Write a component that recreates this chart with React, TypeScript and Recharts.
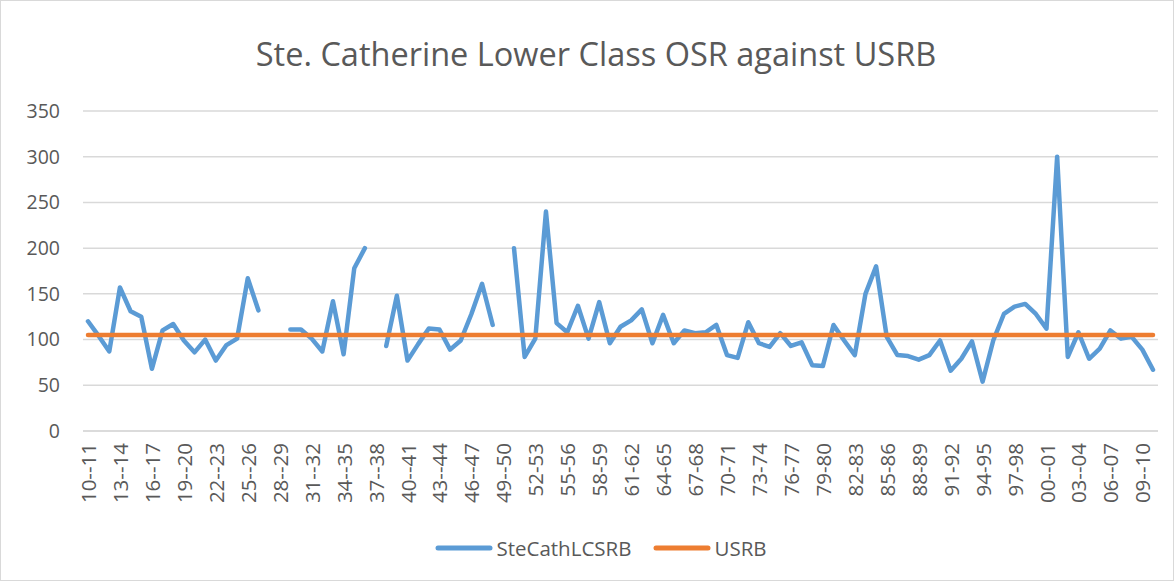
import React from "react";
import { LineChart, Line, XAxis, YAxis, CartesianGrid, Legend } from "recharts";

// season labels, 1910-11 .. 2010-11
const seasons = [
  "10--11", "11--12", "12--13", "13--14", "14--15", "15--16", "16--17", "17--18", "18--19", "19--20",
  "20--21", "21--22", "22--23", "23--24", "24--25", "25--26", "26--27", "27--28", "28--29", "29--30",
  "30--31", "31--32", "32--33", "33--34", "34--35", "35--36", "36--37", "37--38", "38--39", "39--40",
  "40--41", "41--42", "42--43", "43--44", "44--45", "45--46", "46--47", "47--48", "48--49", "49--50",
  "50-51", "51-52", "52-53", "53-54", "54-55", "55-56", "56-57", "57-58", "58-59", "59-60",
  "60-61", "61-62", "62-63", "63-64", "64-65", "65-66", "66-67", "67-68", "68-69", "69-70",
  "70-71", "71-72", "72-73", "73-74", "74-75", "75-76", "76-77", "77-78", "78-79", "79-80",
  "80-81", "81-82", "82-83", "83-84", "84-85", "85-86", "86-87", "87-88", "88-89", "89-90",
  "90-91", "91-92", "92-93", "93-94", "94-95", "95-96", "96-97", "97-98", "98-99", "99-00",
  "00--01", "01--02", "02--03", "03--04", "04--05", "05--06", "06--07", "07--08", "08--09", "09--10",
  "10--11",
];

const steCathLCSRB: (number | null)[] = [
  120, 104, 87, 157, 131, 125, 68, 110, 117, 99,
  86, 100, 77, 94, 101, 167, 132, null, null, 111,
  111, 101, 87, 142, 84, 178, 200, null, 93, 148,
  77, 95, 112, 111, 89, 99, 128, 161, 116, null,
  200, 81, 101, 240, 118, 108, 137, 101, 141, 96,
  114, 121, 133, 96, 127, 96, 110, 107, 108, 116,
  83, 80, 119, 96, 92, 107, 93, 97, 72, 71,
  116, 99, 83, 150, 180, 103, 83, 82, 78, 83,
  99, 66, 79, 98, 54, 99, 128, 136, 139, 128,
  112, 300, 81, 108, 79, 90, 110, 101, 103, 89,
  67,
];

const usrbValue = 105;
const yTicks = [0, 50, 100, 150, 200, 250, 300, 350];

const data = seasons.map((s, i) => ({
  season: s,
  SteCathLCSRB: steCathLCSRB[i],
  USRB: usrbValue,
}));

const textColor = "#595959";
const font = "'Open Sans', 'Noto Sans', sans-serif";

const XTick = (props: any) => {
  const { x, y, payload } = props;
  return (
    <text
      x={x}
      y={y}
      transform={`rotate(-90 ${x} ${y})`}
      textAnchor="end"
      dominantBaseline="central"
      fill={textColor}
      fontSize={20.5}
      fontFamily={font}
    >
      {payload.value}
    </text>
  );
};

const LegendContent = (props: any) => {
  const items = props.payload || [];
  return (
    <div
      style={{
        height: 30,
        display: "flex",
        justifyContent: "center",
        alignItems: "center",
        paddingLeft: 44,
        fontFamily: font,
        fontSize: 20.5,
        color: textColor,
      }}
    >
      {items.map((it: any) => (
        <div key={it.value} style={{ display: "flex", alignItems: "center", margin: "0 11px" }}>
          <svg width={58} height={8} style={{ marginRight: 3 }}>
            <line x1={3} y1={4} x2={55} y2={4} stroke={it.color} strokeWidth={5} strokeLinecap="round" />
          </svg>
          <span>{it.value}</span>
        </div>
      ))}
    </div>
  );
};

export default function App() {
  return (
    <div style={{ position: "relative", width: 1174, height: 581, background: "#fff", fontFamily: font }}>
      <style>{"body{margin:0}"}</style>
      <div
        style={{
          position: "absolute",
          top: 31,
          left: 9,
          width: 1174,
          textAlign: "center",
          fontSize: 32.5,
          color: textColor,
          zIndex: 1,
        }}
      >
        Ste. Catherine Lower Class OSR against USRB
      </div>
      <LineChart width={1174} height={581} data={data} margin={{ top: 111, right: 16, bottom: 18, left: 0 }}>
        <CartesianGrid vertical={false} stroke="#d9d9d9" strokeWidth={1.5} />
        <XAxis
          dataKey="season"
          interval={2}
          height={102}
          padding={{ left: 5, right: 5 }}
          tickSize={0}
          tickMargin={12}
          tick={<XTick />}
          axisLine={{ stroke: "#d9d9d9", strokeWidth: 1.5 }}
        />
        <YAxis
          domain={[0, 350]}
          ticks={yTicks}
          width={83}
          axisLine={false}
          tickLine={false}
          tickSize={0}
          tickMargin={23}
          tick={{ fill: textColor, fontSize: 19.5, fontFamily: font }}
        />
        <Legend verticalAlign="bottom" content={<LegendContent />} />
        <Line
          type="linear"
          dataKey="SteCathLCSRB"
          stroke="#5b9bd5"
          strokeWidth={4.5}
          strokeLinecap="round"
          strokeLinejoin="round"
          dot={false}
          activeDot={false}
          isAnimationActive={false}
        />
        <Line
          type="linear"
          dataKey="USRB"
          stroke="#ed7d31"
          strokeWidth={4.5}
          strokeLinecap="round"
          dot={false}
          activeDot={false}
          isAnimationActive={false}
        />
      </LineChart>
      <div
        style={{
          position: "absolute",
          inset: 0,
          border: "1px solid #d9d9d9",
          pointerEvents: "none",
        }}
      />
    </div>
  );
}
